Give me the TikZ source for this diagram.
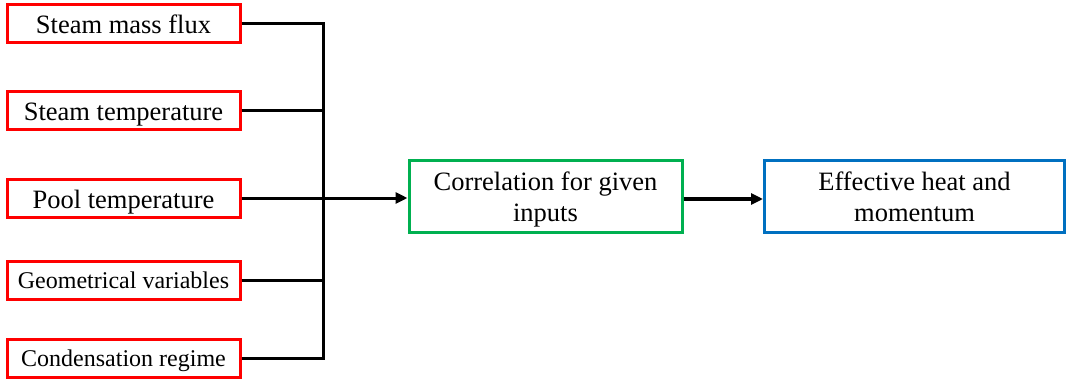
\documentclass[tikz,border=0pt]{standalone}
\usepackage{fontspec}
\setmainfont{Liberation Serif}
\usetikzlibrary{arrows.meta}
\definecolor{inred}{RGB}{255,0,0}
\definecolor{corrgreen}{RGB}{0,176,80}
\definecolor{outblue}{RGB}{0,112,192}
\tikzset{
  inbox/.style={draw=inred, line width=3pt, minimum width=233pt, minimum height=38pt,
    inner sep=0pt, text height=22pt, text depth=2pt, font=\fontsize{26.5}{30}\selectfont},
  smallin/.style={inbox, text height=19pt, text depth=3pt, font=\fontsize{24}{28}\selectfont},
  procbox/.style={draw=corrgreen, line width=3pt, minimum width=273pt, minimum height=72pt,
    inner sep=0pt, align=center, text height=52pt, text depth=2pt,
    font=\fontsize{26.5}{31}\selectfont},
  outbox/.style={procbox, draw=outblue, minimum width=300pt},
  wire/.style={line width=3pt, black},
  flow/.style={wire, -{Triangle[length=12pt,width=11pt]}}
}
\begin{document}
\begin{tikzpicture}[x=1pt,y=-1pt]
\useasboundingbox (0,0) rectangle (1068,383);
% input quantities
\node[inbox]   (smf)  at (123.5,23)  {Steam mass flux};
\node[inbox]   (st)   at (123.5,110.5) {Steam temperature};
\node[inbox]   (pt)   at (123.5,198) {Pool temperature};
\node[smallin] (geo)  at (123.5,280.5) {Geometrical variables};
\node[smallin] (cond) at (123.5,358.5) {Condensation regime};
% correlation and result
\node[procbox] (corr) at (545.5,196) {Correlation for given\\inputs};
\node[outbox]  (eff)  at (914.5,196) {Effective heat and\\momentum};
% collecting bus
\coordinate (bustop) at (323,23);
\coordinate (busbot) at (323,358.5);
\draw[wire] (smf.east) -- (bustop) -- (busbot) -- (cond.east);
\draw[wire] (st.east) -- (st.east -| bustop);
\draw[wire] (geo.east) -- (geo.east -| bustop);
\draw[flow] (pt.east) -- (pt.east -| corr.west);
\draw[flow, line width=3.5pt] (corr.east |- 0,199) -- (eff.west |- 0,199);
\end{tikzpicture}
\end{document}
